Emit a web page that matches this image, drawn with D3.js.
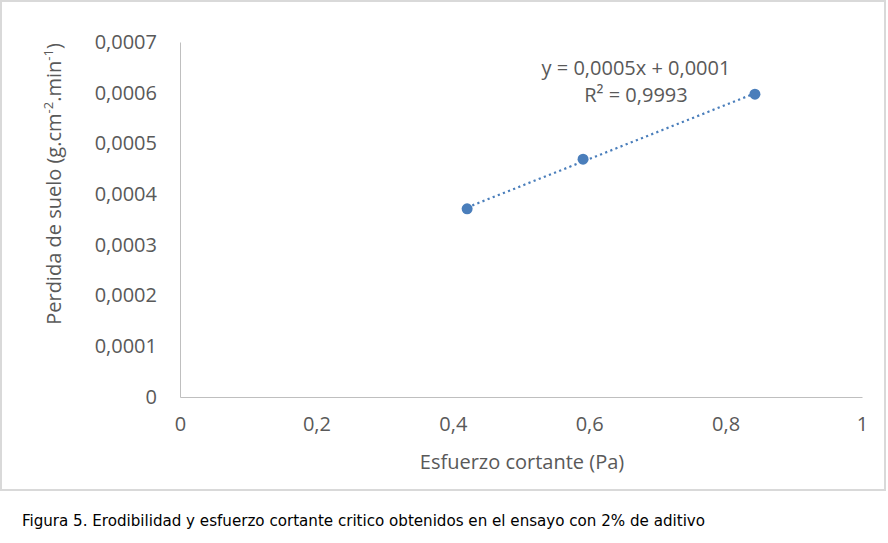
<!DOCTYPE html>
<html><head><meta charset="utf-8">
<script src="https://cdn.jsdelivr.net/npm/d3@7"></script>
<style>body{margin:0;background:#fff}svg{display:block}</style>
</head><body>
<script>
const xValues = [0.421, 0.591, 0.843];
const yValues = [0.000371, 0.000469, 0.000597];
const xTicks = [0, 0.2, 0.4, 0.6, 0.8, 1];
const yTicks = [0, 0.0001, 0.0002, 0.0003, 0.0004, 0.0005, 0.0006, 0.0007];
const eqText = "y = 0,0005x + 0,0001";
const r2Text = "R² = 0,9993";
const xTitle = "Esfuerzo cortante (Pa)";
const caption = "Figura 5. Erodibilidad y esfuerzo cortante critico obtenidos en el ensayo con 2% de aditivo";

const W = 888, H = 543;
const svg = d3.select("body").append("svg").attr("width", W).attr("height", H);
const font = "'Open Sans', 'Segoe UI', sans-serif";
const txt = "#595959";
const fs = "20px";

svg.append("rect").attr("x", 1).attr("y", 1).attr("width", 884).attr("height", 489)
  .attr("fill", "#fff").attr("stroke", "#d9d9d9").attr("stroke-width", 2);

const x = d3.scaleLinear().domain([0, 1]).range([180, 862]);
const y = d3.scaleLinear().domain([0, 0.0007]).range([397, 42]);

const fmt = d => d3.format("")(d).replace(".", ",");
const fmtY = d => d === 0 ? "0" : d.toFixed(4).replace(".", ",");

const xa = svg.append("g").attr("transform", "translate(0,397)")
  .call(d3.axisBottom(x).tickValues(xTicks).tickSize(0).tickPadding(20).tickFormat(fmt));
xa.select(".domain").attr("stroke", "#bfbfbf").attr("stroke-width", 1);
xa.selectAll("text").attr("fill", txt).style("font-family", font).style("font-size", fs);

const ya = svg.append("g").attr("transform", "translate(180,0)")
  .call(d3.axisLeft(y).tickValues(yTicks).tickSize(0).tickPadding(23).tickFormat(fmtY));
ya.select(".domain").attr("stroke", "#bfbfbf").attr("stroke-width", 1);
ya.selectAll("text").attr("fill", txt).style("font-family", font).style("font-size", fs);

const pts = xValues.map((v, i) => [v, yValues[i]]);
const mx = d3.mean(xValues), my = d3.mean(yValues);
const slope = d3.sum(pts, p => (p[0]-mx)*(p[1]-my)) / d3.sum(pts, p => (p[0]-mx)**2);
const icpt = my - slope*mx;
const x0 = d3.min(xValues), x1 = d3.max(xValues);
svg.append("line")
  .attr("x1", x(x0)).attr("y1", y(slope*x0+icpt))
  .attr("x2", x(x1)).attr("y2", y(slope*x1+icpt))
  .attr("stroke", "#4a7ebb").attr("stroke-width", 2.2).attr("stroke-dasharray", "2.2,3.3");

svg.selectAll("circle.pt").data(pts).enter().append("circle")
  .attr("cx", d => x(d[0])).attr("cy", d => y(d[1])).attr("r", 5.5)
  .attr("fill", "#4a7ebb");

svg.append("text").attr("x", 636).attr("y", 75).attr("text-anchor", "middle")
  .attr("fill", txt).style("font-family", font).style("font-size", fs).text(eqText);
svg.append("text").attr("x", 636).attr("y", 102).attr("text-anchor", "middle")
  .attr("fill", txt).style("font-family", font).style("font-size", fs).text(r2Text);

svg.append("text").attr("x", 522).attr("y", 469).attr("text-anchor", "middle")
  .attr("fill", txt).style("font-family", font).style("font-size", fs).text(xTitle);

const yt = svg.append("text").attr("transform", "translate(61,184) rotate(-90)")
  .attr("text-anchor", "middle").attr("fill", txt)
  .style("font-family", font).style("font-size", fs);
yt.append("tspan").text("Perdida de suelo (g.cm");
yt.append("tspan").attr("dy", -8).style("font-size", "13px").text("-2");
yt.append("tspan").attr("dy", 8).text(".min");
yt.append("tspan").attr("dy", -8).style("font-size", "13px").text("-1");
yt.append("tspan").attr("dy", 8).text(")");

svg.append("text").attr("x", 22).attr("y", 526)
  .attr("fill", "#000").style("font-family", "'Liberation Sans Narrow', 'DejaVu Sans Condensed', sans-serif")
  .style("font-size", "16px").attr("textLength", 683).attr("lengthAdjust", "spacingAndGlyphs")
  .text(caption);
</script>
</body></html>
